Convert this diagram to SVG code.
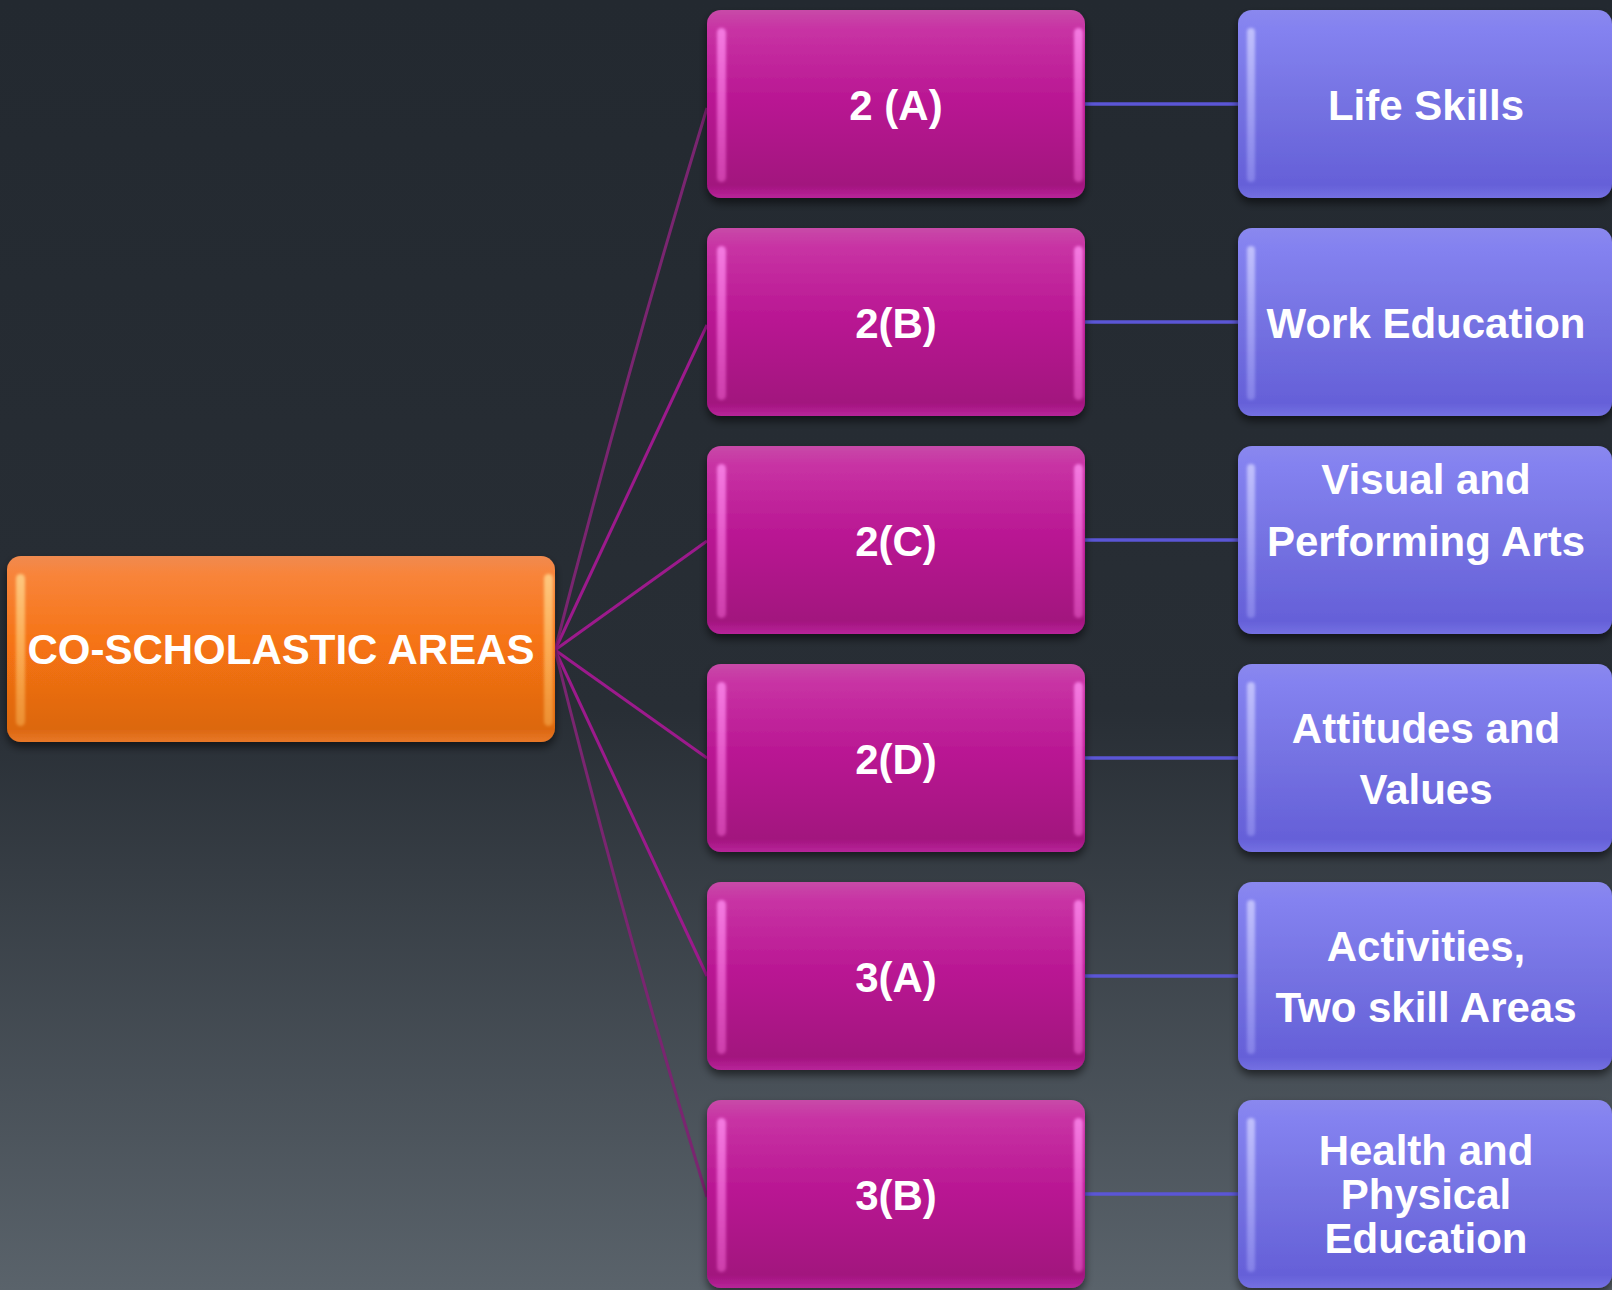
<svg xmlns="http://www.w3.org/2000/svg" width="1612" height="1290" viewBox="0 0 1612 1290">
<defs>
  <linearGradient id="bg" x1="0" y1="0" x2="0" y2="1">
    <stop offset="0" stop-color="#232930"/>
    <stop offset="0.55" stop-color="#282e35"/>
    <stop offset="1" stop-color="#5a636b"/>
  </linearGradient>
  <linearGradient id="gMag" x1="0" y1="0" x2="0" y2="1">
    <stop offset="0" stop-color="#c84aa8"/>
    <stop offset="0.1" stop-color="#c833a4"/>
    <stop offset="0.5" stop-color="#b81592"/>
    <stop offset="0.93" stop-color="#a2137e"/>
    <stop offset="1" stop-color="#b8259a"/>
  </linearGradient>
  <linearGradient id="gOr" x1="0" y1="0" x2="0" y2="1">
    <stop offset="0" stop-color="#f08a50"/>
    <stop offset="0.1" stop-color="#f8843a"/>
    <stop offset="0.5" stop-color="#f57212"/>
    <stop offset="0.93" stop-color="#dc6710"/>
    <stop offset="1" stop-color="#e87828"/>
  </linearGradient>
  <linearGradient id="gBl" x1="0" y1="0" x2="0" y2="1">
    <stop offset="0" stop-color="#8a88ee"/>
    <stop offset="0.1" stop-color="#8482f0"/>
    <stop offset="0.5" stop-color="#7572e2"/>
    <stop offset="0.93" stop-color="#6560d8"/>
    <stop offset="1" stop-color="#7470e2"/>
  </linearGradient>
  <linearGradient id="hlMag" x1="0" y1="0" x2="0" y2="1">
    <stop offset="0" stop-color="#ff8cf0" stop-opacity="0.8"/>
    <stop offset="1" stop-color="#ff70e0" stop-opacity="0.45"/>
  </linearGradient>
  <linearGradient id="hlOr" x1="0" y1="0" x2="0" y2="1">
    <stop offset="0" stop-color="#ffd890" stop-opacity="0.8"/>
    <stop offset="1" stop-color="#ffc060" stop-opacity="0.45"/>
  </linearGradient>
  <linearGradient id="hlBl" x1="0" y1="0" x2="0" y2="1">
    <stop offset="0" stop-color="#d0d0ff" stop-opacity="0.8"/>
    <stop offset="1" stop-color="#b0b0ff" stop-opacity="0.4"/>
  </linearGradient>
  <filter id="sh" x="-10%" y="-10%" width="120%" height="125%">
    <feDropShadow dx="0" dy="5" stdDeviation="4" flood-color="#000" flood-opacity="0.55"/>
  </filter>
  <filter id="blur" x="-50%" y="-10%" width="200%" height="120%">
    <feGaussianBlur stdDeviation="1.5"/>
  </filter>
</defs>
<style>
  .t { font-family: "Liberation Sans", Arial, Helvetica, sans-serif; font-weight: bold; font-size: 42px; fill: #ffffff; text-anchor: middle; }
  .mag { fill: url(#gMag); }
  .or { fill: url(#gOr); }
  .bl { fill: url(#gBl); }
  .hm { fill: url(#hlMag); filter: url(#blur); }
  .ho { fill: url(#hlOr); filter: url(#blur); }
  .hb { fill: url(#hlBl); filter: url(#blur); }
  .cm { stroke: #9c1a8c; stroke-width: 3; fill: none; }
  .cmd { stroke: #7a2570; stroke-width: 3; fill: none; }
  .cb { stroke: #5b56d6; stroke-width: 3.5; fill: none; }
</style>
<rect x="0" y="0" width="1612" height="1290" fill="url(#bg)"/>

<g id="connectors">
  <path class="cmd" d="M555,650 Q630,360 707,108"/>
  <path class="cm" d="M555,650 L707,325"/>
  <path class="cm" d="M555,650 L707,541"/>
  <path class="cm" d="M555,650 L707,758"/>
  <path class="cm" d="M555,650 L707,976"/>
  <path class="cmd" d="M555,650 Q625,930 707,1197"/>
  <path class="cb" d="M1085,104 H1238"/>
  <path class="cb" d="M1085,322 H1238"/>
  <path class="cb" d="M1085,540 H1238"/>
  <path class="cb" d="M1085,758 H1238"/>
  <path class="cb" d="M1085,976 H1238"/>
  <path class="cb" d="M1085,1194 H1238"/>
</g>

<g id="root" transform="translate(7,556)">
  <rect class="or" x="0" y="0" width="548" height="186" rx="14" filter="url(#sh)"/>
  <rect class="ho" x="9" y="18" width="9" height="152" rx="4.5"/>
  <rect class="ho" x="537" y="18" width="9" height="152" rx="4.5"/>
  <text class="t" x="274" y="108">CO-SCHOLASTIC AREAS</text>
</g>

<g id="n2a" transform="translate(707,10)">
  <rect class="mag" x="0" y="0" width="378" height="188" rx="14" filter="url(#sh)"/>
  <rect class="hm" x="10" y="18" width="9" height="154" rx="4.5"/>
  <rect class="hm" x="367" y="18" width="9" height="154" rx="4.5"/>
  <text class="t" x="189" y="110">2 (A)</text>
</g>
<g id="n2b" transform="translate(707,228)">
  <rect class="mag" x="0" y="0" width="378" height="188" rx="14" filter="url(#sh)"/>
  <rect class="hm" x="10" y="18" width="9" height="154" rx="4.5"/>
  <rect class="hm" x="367" y="18" width="9" height="154" rx="4.5"/>
  <text class="t" x="189" y="110">2(B)</text>
</g>
<g id="n2c" transform="translate(707,446)">
  <rect class="mag" x="0" y="0" width="378" height="188" rx="14" filter="url(#sh)"/>
  <rect class="hm" x="10" y="18" width="9" height="154" rx="4.5"/>
  <rect class="hm" x="367" y="18" width="9" height="154" rx="4.5"/>
  <text class="t" x="189" y="110">2(C)</text>
</g>
<g id="n2d" transform="translate(707,664)">
  <rect class="mag" x="0" y="0" width="378" height="188" rx="14" filter="url(#sh)"/>
  <rect class="hm" x="10" y="18" width="9" height="154" rx="4.5"/>
  <rect class="hm" x="367" y="18" width="9" height="154" rx="4.5"/>
  <text class="t" x="189" y="110">2(D)</text>
</g>
<g id="n3a" transform="translate(707,882)">
  <rect class="mag" x="0" y="0" width="378" height="188" rx="14" filter="url(#sh)"/>
  <rect class="hm" x="10" y="18" width="9" height="154" rx="4.5"/>
  <rect class="hm" x="367" y="18" width="9" height="154" rx="4.5"/>
  <text class="t" x="189" y="110">3(A)</text>
</g>
<g id="n3b" transform="translate(707,1100)">
  <rect class="mag" x="0" y="0" width="378" height="188" rx="14" filter="url(#sh)"/>
  <rect class="hm" x="10" y="18" width="9" height="154" rx="4.5"/>
  <rect class="hm" x="367" y="18" width="9" height="154" rx="4.5"/>
  <text class="t" x="189" y="110">3(B)</text>
</g>

<g id="life-skills" transform="translate(1238,10)">
  <rect class="bl" x="0" y="0" width="374" height="188" rx="14" filter="url(#sh)"/>
  <rect class="hb" x="9" y="18" width="8" height="154" rx="4"/>
  <text class="t" x="188" y="110">Life Skills</text>
</g>
<g id="work-education" transform="translate(1238,228)">
  <rect class="bl" x="0" y="0" width="374" height="188" rx="14" filter="url(#sh)"/>
  <rect class="hb" x="9" y="18" width="8" height="154" rx="4"/>
  <text class="t" x="188" y="110">Work Education</text>
</g>
<g id="visual-arts" transform="translate(1238,446)">
  <rect class="bl" x="0" y="0" width="374" height="188" rx="14" filter="url(#sh)"/>
  <rect class="hb" x="9" y="18" width="8" height="154" rx="4"/>
  <text class="t" x="188" y="48">Visual and</text>
  <text class="t" x="188" y="110">Performing Arts</text>
</g>
<g id="attitudes" transform="translate(1238,664)">
  <rect class="bl" x="0" y="0" width="374" height="188" rx="14" filter="url(#sh)"/>
  <rect class="hb" x="9" y="18" width="8" height="154" rx="4"/>
  <text class="t" x="188" y="79">Attitudes and</text>
  <text class="t" x="188" y="140">Values</text>
</g>
<g id="activities" transform="translate(1238,882)">
  <rect class="bl" x="0" y="0" width="374" height="188" rx="14" filter="url(#sh)"/>
  <rect class="hb" x="9" y="18" width="8" height="154" rx="4"/>
  <text class="t" x="188" y="79">Activities,</text>
  <text class="t" x="188" y="140">Two skill Areas</text>
</g>
<g id="health" transform="translate(1238,1100)">
  <rect class="bl" x="0" y="0" width="374" height="188" rx="14" filter="url(#sh)"/>
  <rect class="hb" x="9" y="18" width="8" height="154" rx="4"/>
  <text class="t" x="188" y="65">Health and</text>
  <text class="t" x="188" y="109">Physical</text>
  <text class="t" x="188" y="153">Education</text>
</g>
</svg>
